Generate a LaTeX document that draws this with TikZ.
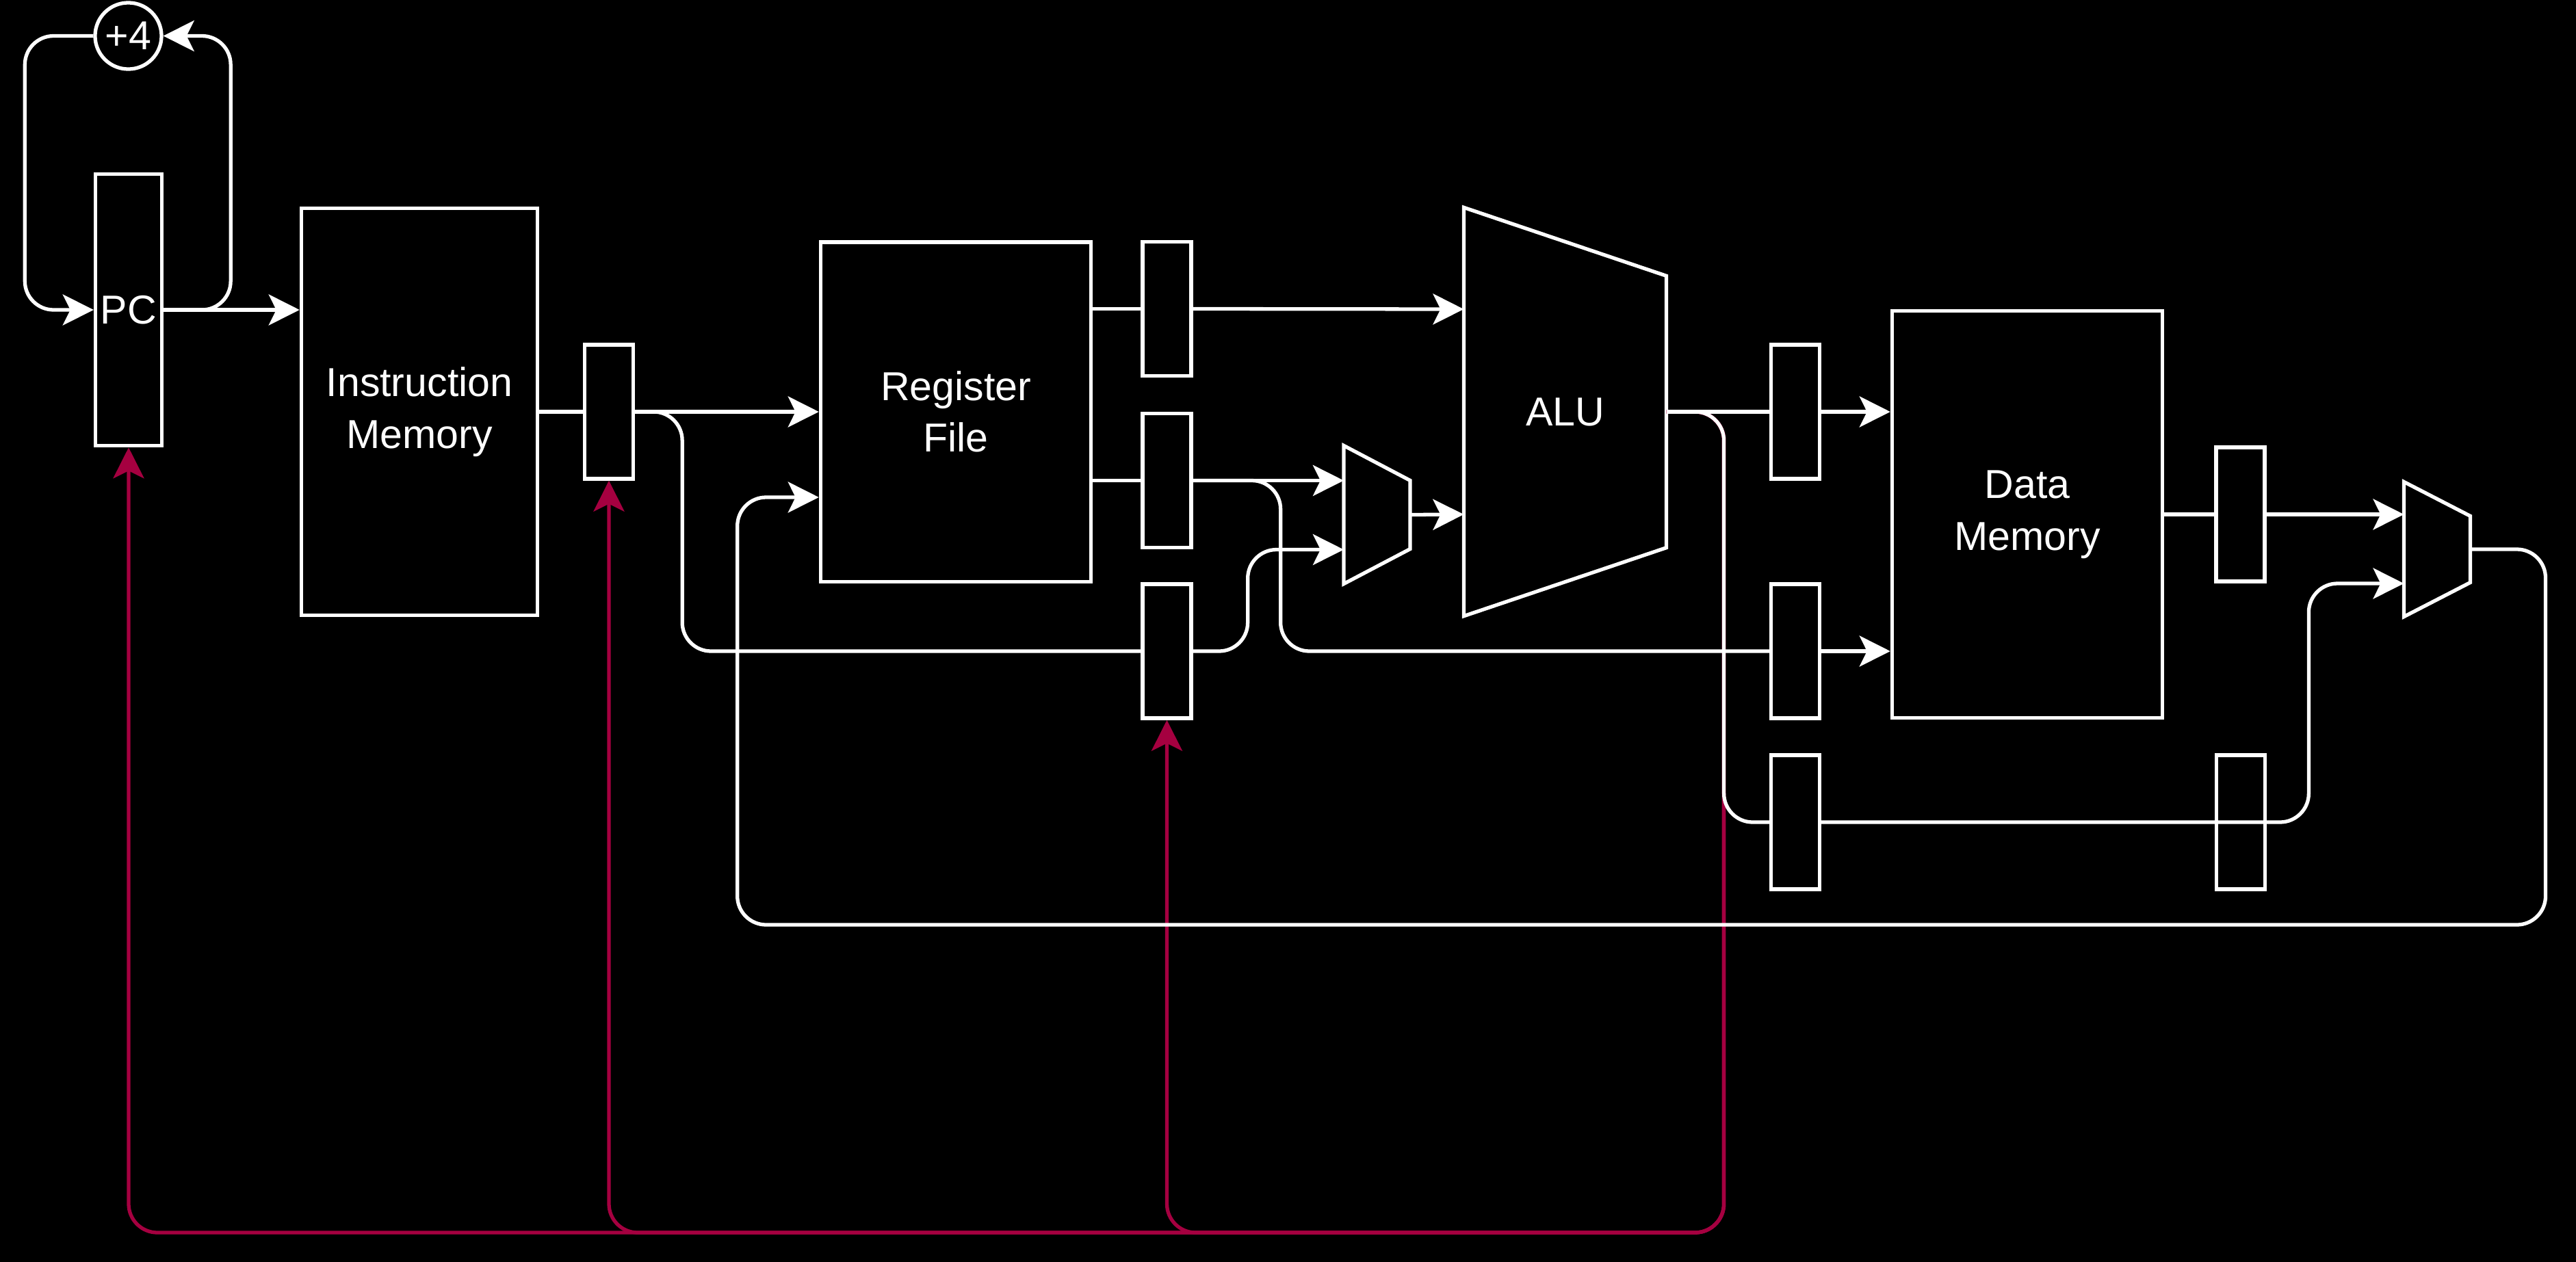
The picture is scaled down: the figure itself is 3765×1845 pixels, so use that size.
\documentclass[tikz,border=0pt]{standalone}
\usepackage{fontspec}
\setmainfont{Liberation Sans}
\usetikzlibrary{arrows.meta,calc}

\definecolor{stallred}{HTML}{A50040}

\begin{document}
\begin{tikzpicture}[
    x=0.01cm, y=-0.01cm,
    unit/.style={draw=white, fill=black, line width=1.5pt, text=white, align=center, inner sep=0pt, font={\fontsize{16.8}{21.5}\selectfont}},
    block/.style={unit, rectangle, minimum width=3.95cm, minimum height=5.95cm},
    pipereg/.style={unit, rectangle, minimum width=0.71cm, minimum height=1.96cm},
    outline/.style={rectangle, inner sep=0pt, outer sep=0pt, text=white, font={\fontsize{16.8}{21.5}\selectfont}},
    wire/.style={white, line width=1.5pt, rounded corners=0.42cm},
    arrow/.style={wire, -{Stealth[length=4.5mm, width=4.5mm, inset=1.1mm]}},
    stall/.style={arrow, stallred},
]
    \fill[black] (0,0) rectangle (3765,1845);
    \useasboundingbox (0,0) rectangle (3765,1845);

    % Stages
    \node[unit, circle, minimum size=0.97cm] (plus4) at (187.5,52.5) {+4};
    \node[unit, rectangle, minimum width=0.97cm, minimum height=3.97cm] (pc) at (188,453) {PC};
    \node[block, minimum width=3.45cm] (imem) at (613,602) {Instruction\\Memory};
    \node[pipereg] (ifid) at (890,602) {};
    \node[block, minimum height=4.96cm] (rf) at (1397,602) {Register\\File};
    \node[pipereg] (idex1) at (1705.5,451.5) {};
    \node[pipereg] (idex2) at (1705.5,702.5) {};
    \node[pipereg] (idex3) at (1705.5,952) {};
    \node[outline, minimum width=0.97cm, minimum height=2.02cm] (mux1) at (2012.5,752.5) {};
    \node[outline, minimum width=2.96cm, minimum height=5.97cm] (alu) at (2287.5,602) {ALU};
    \node[pipereg] (exmem1) at (2624,602) {};
    \node[pipereg] (exmem2) at (2624,952) {};
    \node[pipereg] (exmem3) at (2624,1202) {};
    \node[block] (dmem) at (2963,752) {Data\\Memory};
    \node[pipereg] (memwb1) at (3274.5,752) {};
    \node[pipereg] (memwb2) at (3275,1202) {};
    \node[outline, minimum width=0.97cm, minimum height=1.97cm] (wbmux) at (3562,803) {};

    % Trapezoids
    \draw[white, line width=1.5pt] (mux1.north west) -- ($(mux1.north east)+(0,51)$) -- ($(mux1.south east)+(0,-51)$) -- (mux1.south west) -- cycle;
    \draw[white, line width=1.5pt] (alu.north west) -- ($(alu.north east)+(0,100)$) -- ($(alu.south east)+(0,-100)$) -- (alu.south west) -- cycle;
    \draw[white, line width=1.5pt] (wbmux.north west) -- ($(wbmux.north east)+(0,50)$) -- ($(wbmux.south east)+(0,-50)$) -- (wbmux.south west) -- cycle;

    \coordinate (alu-a) at ($(alu.west)+(0,-150)$);
    \coordinate (alu-b) at ($(alu.west)+(0,150)$);
    \coordinate (mux1-b) at ($(mux1.west)+(0,51)$);
    \coordinate (wb-b) at ($(wbmux.west)+(0,50)$);
    \coordinate (rf-w) at ($(rf.west)+(0,125)$);
    \coordinate (stall) at ($(alu.east)+(84,1200)$);

    % Stall lines
    \foreach \dst in {pc,ifid,idex3}
        \draw[stall] (alu.east) -- ++(84,0) -- (stall) -| (\dst.south);

    % Fetch
    \draw[arrow] (pc.east) -- (pc.east -| imem.west);
    \draw[arrow] (pc.east) -- ++(98,0) |- (plus4.east);
    \draw[arrow] (plus4.west) -- ++(-100,0) |- (pc.west);
    \draw[wire] (imem.east) -- (ifid.west);

    % Decode
    \draw[arrow] (ifid.east) -- (ifid.east -| rf.west);
    \draw[wire] (ifid.east) -- ++(69,0) |- (idex3.west);
    \draw[wire] (rf.east |- idex1.west) -- (idex1.west);
    \draw[wire] (rf.east |- idex2.west) -- (idex2.west);

    % Execute
    \draw[arrow] (idex1.east) -- (alu-a);
    \draw[arrow] (idex2.east) -- (idex2.east -| mux1.west);
    \draw[wire] (idex2.east) -- ++(128,0) |- (exmem2.west);
    \draw[arrow] (idex3.east) -- ++(80,0) |- (mux1-b);
    \draw[arrow] (mux1.east) -- (alu-b);

    % Memory
    \draw[wire] (alu.east) -- (exmem1.west);
    \draw[wire] (alu.east) -- ++(84,0) |- (exmem3.west);
    \draw[arrow] (exmem1.east) -- (exmem1.east -| dmem.west);
    \draw[arrow] (exmem2.east) -- (exmem2.east -| dmem.west);

    % Write back
    \draw[wire] (dmem.east) -- (memwb1.west);
    \draw[arrow] (memwb1.east) -- (memwb1.east -| wbmux.west);
    \draw[arrow] (exmem3.east) -| ([xshift=-1.39cm]wb-b) -- (wb-b);
    \draw[arrow] (wbmux.east) -- ++(110,0) -- ++(0,549) -| ([xshift=-1.19cm]rf-w) -- (rf-w);
\end{tikzpicture}
\end{document}
